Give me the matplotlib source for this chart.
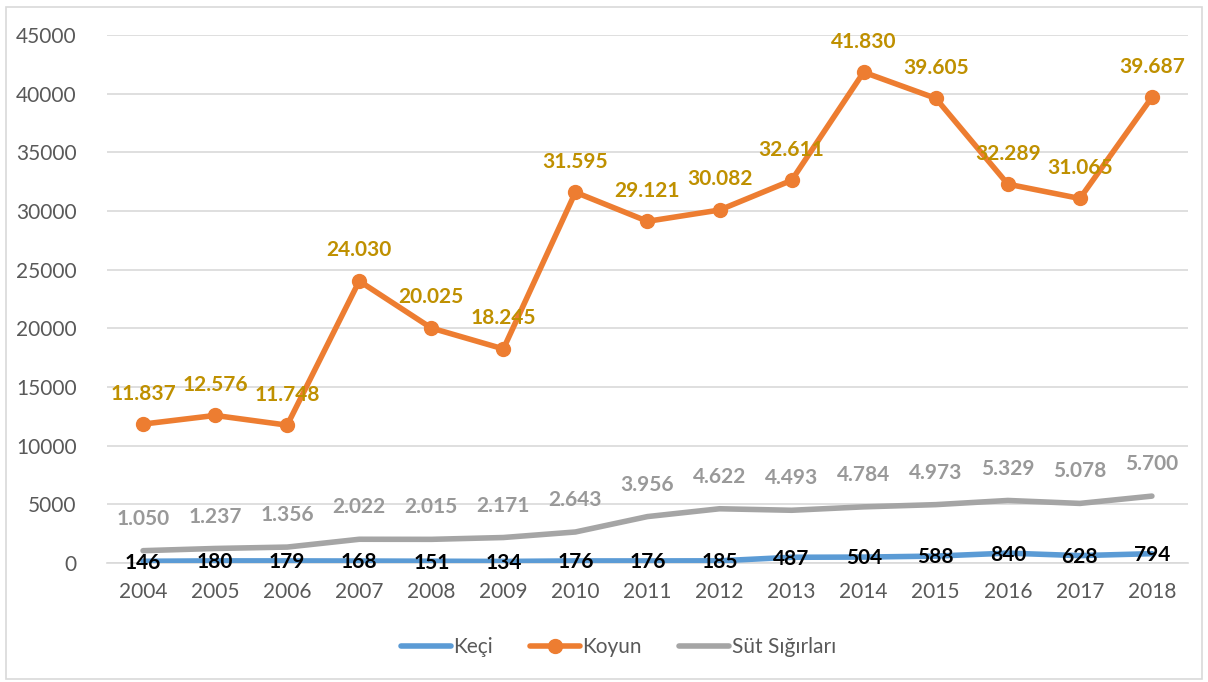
import matplotlib
matplotlib.use("Agg")
import matplotlib.pyplot as plt
from matplotlib.patches import Rectangle

years = ["2004", "2005", "2006", "2007", "2008", "2009", "2010", "2011",
         "2012", "2013", "2014", "2015", "2016", "2017", "2018"]
keci = [146, 180, 179, 168, 151, 134, 176, 176, 185, 487, 504, 588, 840, 628, 794]
koyun = [11837, 12576, 11748, 24030, 20025, 18245, 31595, 29121, 30082, 32611,
         41830, 39605, 32289, 31065, 39687]
sut = [1050, 1237, 1356, 2022, 2015, 2171, 2643, 3956, 4622, 4493, 4784, 4973,
       5329, 5078, 5700]
yticks = list(range(0, 45001, 5000))

plt.rcParams['font.family'] = ['Lato', 'DejaVu Sans']

fig = plt.figure(figsize=(12.08, 6.82), dpi=100)
fig.patches.append(Rectangle((0.005, 0.005), 0.99, 0.985, transform=fig.transFigure,
                             fill=False, edgecolor='#d9d9d9', linewidth=1.2))
ax = fig.add_axes([0.0886, 0.1745, 0.8948, 0.7742])

x = list(range(len(years)))
blue = '#5B9BD5'
orange = '#ED7D31'
gray = '#A5A5A5'

ax.plot(x, keci, color=blue, linewidth=4, solid_capstyle='round', label='Keçi', zorder=3)
ax.plot(x, koyun, color=orange, linewidth=4, marker='o', markersize=10,
        solid_capstyle='round', label='Koyun', zorder=3)
ax.plot(x, sut, color=gray, linewidth=4, solid_capstyle='round', label='Süt Sığırları', zorder=3)

def fmt(v):
    return f"{v:,}".replace(",", ".")

for xi, v in zip(x, koyun):
    ax.annotate(fmt(v), (xi, v), xytext=(0, 22), textcoords='offset points',
                ha='center', va='center', fontsize=15, fontweight='bold', color='#BF9000', zorder=5)
for xi, v in zip(x, sut):
    ax.annotate(fmt(v), (xi, v), xytext=(0, 23), textcoords='offset points',
                ha='center', va='center', fontsize=15, fontweight='bold', color='#999999', zorder=5)
for xi, v in zip(x, keci):
    ax.annotate(fmt(v), (xi, v), xytext=(0, -1), textcoords='offset points',
                ha='center', va='center', fontsize=15, fontweight='bold', color='black', zorder=5)

ax.set_xlim(-0.5, len(years) - 0.5)
ax.set_ylim(0, 45000)
ax.set_yticks(yticks)
ax.set_yticklabels([str(t) for t in yticks])
ax.set_xticks(x)
ax.set_xticklabels(years)
ax.tick_params(axis='both', length=0, labelsize=15, labelcolor='#595959')
ax.tick_params(axis='y', pad=22)
ax.tick_params(axis='x', pad=14)
ax.grid(axis='y', color='#d9d9d9', linewidth=1.2)
ax.set_axisbelow(True)
for s in ['top', 'right', 'left']:
    ax.spines[s].set_visible(False)
ax.spines['bottom'].set_color('#d9d9d9')
ax.spines['bottom'].set_linewidth(1.2)

leg = fig.legend(loc='center', bbox_to_anchor=(0.512, 0.051), ncol=3, frameon=False,
                 fontsize=15, handlelength=2.4, handletextpad=0.1, columnspacing=1.8)
for t in leg.get_texts():
    t.set_color('#595959')

fig.savefig('out.png', dpi=100)
